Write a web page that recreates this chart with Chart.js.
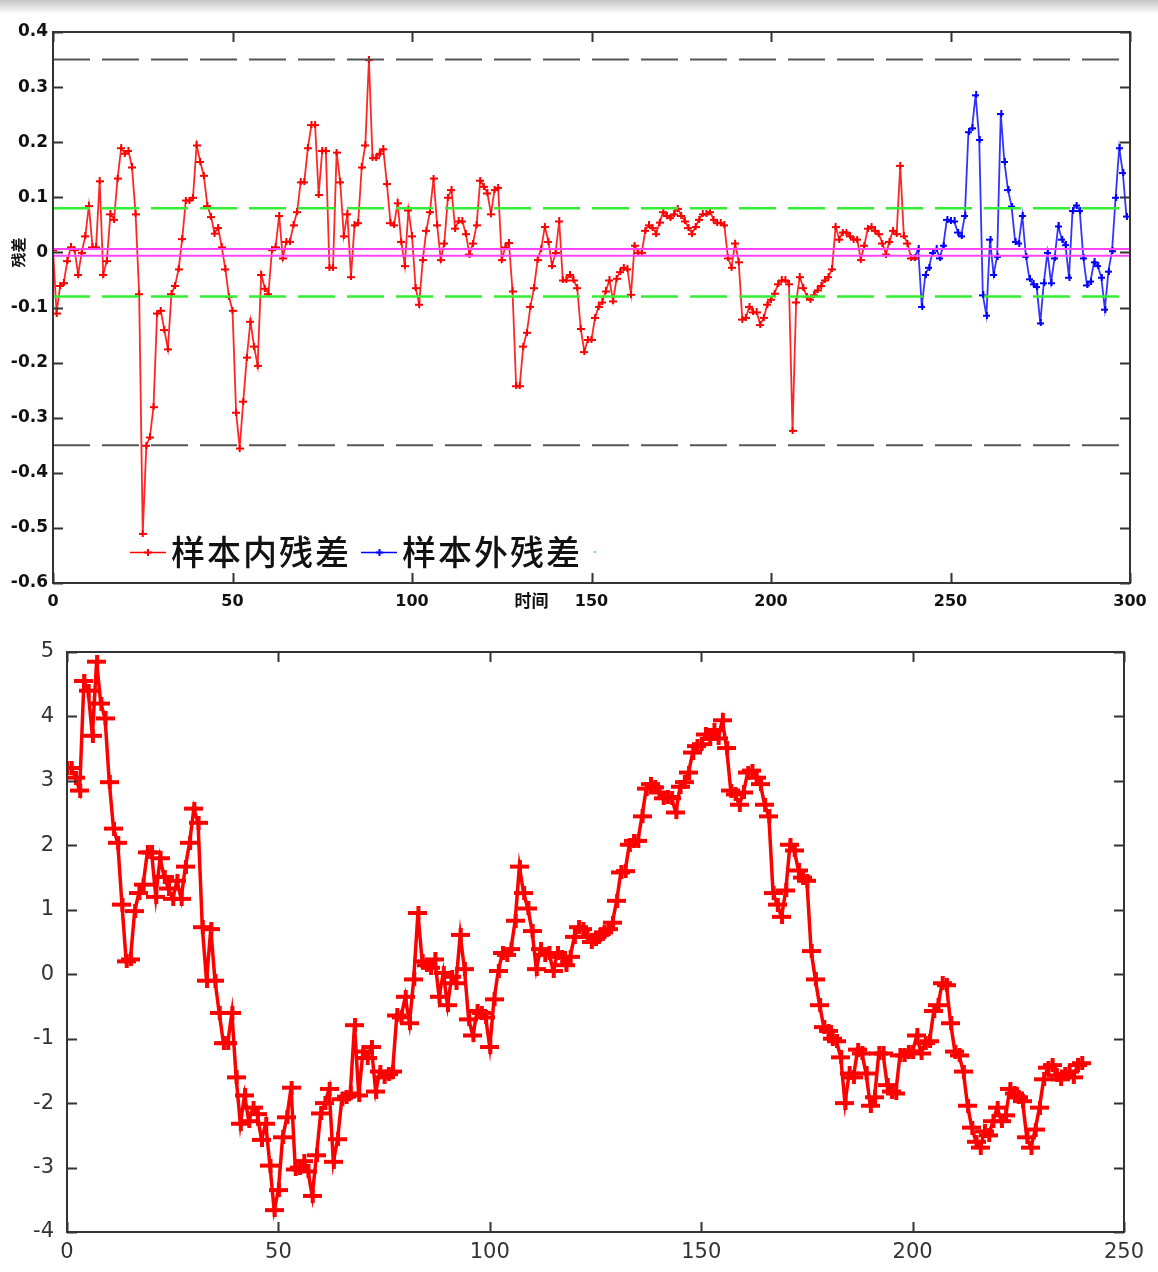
<!DOCTYPE html>
<html>
<head>
<meta charset="utf-8">
<script src="https://cdn.jsdelivr.net/npm/chart.js@4.4.0/dist/chart.umd.min.js"></script>
<style>
body { margin: 0; background: #fff; width: 1158px; height: 1272px; overflow: hidden; position: relative; }
#band { position: absolute; left: 0; top: 0; width: 1158px; height: 14px; background: linear-gradient(#c4c4c4, #fff); }
#residChart { position: absolute; left: 0; top: 0; }
#walkChart { position: absolute; left: 0; top: 630px; }
</style>
</head>
<body>
<div id="band"></div>
<canvas id="residChart" width="1158" height="620"></canvas>
<canvas id="walkChart" width="1158" height="642"></canvas>
<script>
// top panel: residuals, t = 0..240 in sample, 240..299 out of sample
const inSample = [
    0.005, -0.11, -0.06, -0.055, -0.015, 0.01, 0.005, -0.04, 0.0, 0.03,
    0.085, 0.01, 0.01, 0.13, -0.04, -0.015, 0.07, 0.06, 0.135, 0.19,
    0.18, 0.185, 0.155, 0.07, -0.075, -0.51, -0.35, -0.335, -0.28, -0.11,
    -0.105, -0.14, -0.175, -0.075, -0.06, -0.03, 0.025, 0.095, 0.095, 0.1,
    0.195, 0.165, 0.14, 0.085, 0.065, 0.035, 0.045, 0.01, -0.03, -0.08,
    -0.105, -0.29, -0.355, -0.27, -0.19, -0.125, -0.17, -0.205, -0.04, -0.065,
    -0.075, 0.005, 0.01, 0.067, -0.01, 0.02, 0.02, 0.05, 0.074, 0.128,
    0.128, 0.19, 0.232, 0.232, 0.105, 0.185, 0.185, -0.027, -0.027, 0.182,
    0.128, 0.03, 0.07, -0.044, 0.05, 0.054, 0.155, 0.195, 0.35, 0.172,
    0.172, 0.18, 0.188, 0.125, 0.054, 0.05, 0.09, 0.02, -0.024, 0.077,
    0.03, -0.064, -0.094, -0.013, 0.04, 0.074, 0.135, 0.05, -0.013, 0.017,
    0.1, 0.114, 0.044, 0.057, 0.057, 0.034, -0.003, 0.017, 0.05, 0.131,
    0.12, 0.108, 0.07, 0.114, 0.118, -0.013, 0.01, 0.018, -0.07, -0.242,
    -0.242, -0.17, -0.145, -0.098, -0.064, -0.013, 0.007, 0.047, 0.02, -0.024,
    0.0, 0.057, -0.05, -0.05, -0.04, -0.05, -0.064, -0.138, -0.18, -0.158,
    -0.158, -0.118, -0.098, -0.09, -0.07, -0.05, -0.088, -0.047, -0.035, -0.027,
    -0.03, -0.076, 0.013, 0.0, 0.0, 0.04, 0.05, 0.045, 0.034, 0.055,
    0.074, 0.067, 0.063, 0.07, 0.08, 0.067, 0.057, 0.045, 0.034, 0.047,
    0.06, 0.07, 0.07, 0.074, 0.06, 0.054, 0.054, 0.05, -0.01, -0.027,
    0.017, -0.017, -0.121, -0.118, -0.098, -0.108, -0.108, -0.131, -0.118, -0.094,
    -0.085, -0.074, -0.057, -0.05, -0.05, -0.057, -0.323, -0.09, -0.044, -0.064,
    -0.08, -0.085, -0.077, -0.068, -0.06, -0.05, -0.044, -0.03, 0.047, 0.024,
    0.037, 0.037, 0.03, 0.024, 0.024, -0.013, 0.013, 0.044, 0.047, 0.04,
    0.034, 0.017, -0.003, 0.02, 0.04, 0.034, 0.158, 0.03, 0.017, -0.01,
    -0.01
];
const outStart = 240;
const outSample = [
    -0.01, 0.007, -0.098, -0.04, -0.027, 0.0, 0.007, -0.01, 0.013, 0.06,
    0.057, 0.057, 0.037, 0.03, 0.067, 0.219, 0.226, 0.286, 0.205, -0.077,
    -0.114, 0.024, -0.04, -0.007, 0.252, 0.165, 0.114, 0.084, 0.02, 0.017,
    0.067, -0.007, -0.048, -0.057, -0.062, -0.128, -0.055, 0.0, -0.055, -0.01,
    0.048, 0.024, 0.014, -0.045, 0.076, 0.086, 0.076, -0.01, -0.059, -0.052,
    -0.017, -0.024, -0.045, -0.103, -0.034, 0.003, 0.1, 0.19, 0.145, 0.066
];
const controlLimits = [0.35, -0.35];
const warnLimits = [0.08, -0.08];
const centerBand = [0.006, -0.006];
const xTicksTop = [0, 50, 100, 150, 200, 250, 300];
const yTicksTop = [0.4, 0.3, 0.2, 0.1, 0, -0.1, -0.2, -0.3, -0.4, -0.5, -0.6];
const legendNames = ["样本内残差", "样本外残差"];

// bottom panel
const walk = [
    3.2, 3.2, 3.05, 2.85, 4.55, 4.4, 3.7, 4.85, 4.2, 3.97,
    2.98, 2.26, 2.04, 1.08, 0.2, 0.23, 0.98, 1.26, 1.39, 1.89,
    1.89, 1.2, 1.8, 1.51, 1.33, 1.17, 1.45, 1.17, 1.67, 2.04,
    2.57, 2.35, 0.73, -0.1, 0.7, -0.1, -0.6, -1.07, -1.07, -0.6,
    -1.6, -2.32, -1.88, -2.28, -2.07, -2.17, -2.57, -2.32, -2.97, -3.66,
    -3.35, -2.53, -2.22, -1.76, -3.03, -3.0, -2.9, -3.06, -3.44, -2.81,
    -2.16, -2.0, -1.78, -2.91, -2.56, -1.94, -1.9, -1.85, -0.79, -1.88,
    -1.2, -1.3, -1.13, -1.82, -1.51, -1.6, -1.55, -1.51, -0.64, -0.67,
    -0.35, -0.76, -0.08, 0.95, 0.2, 0.14, 0.1, 0.23, -0.35, 0.02,
    -0.48, -0.04, -0.14, 0.61, 0.08, -0.7, -0.95, -0.57, -0.6, -0.67,
    -1.13, -0.39, 0.05, 0.33, 0.3, 0.39, 0.83, 1.67, 1.26, 1.02,
    0.67, 0.08, 0.39, 0.3, 0.33, 0.05, 0.33, 0.27, 0.14, 0.27,
    0.58, 0.73, 0.7, 0.58, 0.5, 0.55, 0.61, 0.65, 0.7, 0.8,
    1.14, 1.58, 1.6, 2.01, 2.07, 2.07, 2.45, 2.88, 2.95, 2.9,
    2.82, 2.73, 2.75, 2.73, 2.51, 2.91, 2.98, 3.13, 3.44, 3.54,
    3.57, 3.72, 3.65, 3.79, 3.66, 3.94, 3.51, 2.85, 2.79, 2.63,
    2.82, 3.13, 3.16, 3.05, 2.95, 2.63, 2.45, 1.26, 1.08, 0.89,
    1.3, 2.01, 1.92, 1.61, 1.5, 1.45, 0.36, -0.08, -0.48, -0.82,
    -0.88, -1.0, -1.04, -1.29, -2.0, -1.54, -1.6, -1.17, -1.23, -1.54,
    -2.04, -1.91, -1.23, -1.23, -1.72, -1.82, -1.85, -1.26, -1.26, -1.2,
    -1.2, -0.95, -1.23, -1.07, -1.04, -0.57, -0.48, -0.14, -0.17, -0.76,
    -1.2, -1.26, -1.51, -2.04, -2.38, -2.6, -2.69, -2.44, -2.5, -2.28,
    -2.07, -2.28, -2.19, -1.78, -1.85, -1.91, -1.97, -2.53, -2.69, -2.41,
    -2.07, -1.63, -1.45, -1.41, -1.57, -1.63, -1.55, -1.51, -1.6, -1.41,
    -1.38
];
const xTicksBottom = [0, 50, 100, 150, 200, 250];
const yTicksBottom = [5, 4, 3, 2, 1, 0, -1, -2, -3, -4];

function makeCross(w, h, t, color) {
    const c = document.createElement("canvas");
    c.width = w;
    c.height = h;
    const g = c.getContext("2d");
    g.fillStyle = color;
    g.fillRect(0, Math.round((h - t) / 2), w, t);
    g.fillRect(Math.round((w - t) / 2), 0, t, h);
    return c;
}

const redCross = makeCross(8, 7, 2, "#ff0000");
const blueCross = makeCross(7, 7, 2, "#0000ff");
const bigCross = makeCross(19, 14, 4, "#ff0000");

// matlab style box with ticks pointing inwards
const boxTicks = {
    id: "boxTicks",
    afterDraw(chart, args, opts) {
        const { ctx, chartArea: a, scales } = chart;
        const len = opts.len || 10;
        ctx.save();
        ctx.strokeStyle = opts.color || "#333";
        ctx.lineWidth = opts.width || 2;
        ctx.beginPath();
        scales.x.ticks.forEach(t => {
            const px = Math.round(scales.x.getPixelForValue(t.value)) + 0.5;
            ctx.moveTo(px, a.bottom);
            ctx.lineTo(px, a.bottom - len);
            ctx.moveTo(px, a.top);
            ctx.lineTo(px, a.top + len);
        });
        scales.y.ticks.forEach(t => {
            const py = Math.round(scales.y.getPixelForValue(t.value)) + 0.5;
            ctx.moveTo(a.left, py);
            ctx.lineTo(a.left + len, py);
            ctx.moveTo(a.right, py);
            ctx.lineTo(a.right - len, py);
        });
        ctx.stroke();
        ctx.strokeRect(a.left, a.top, a.right - a.left, a.bottom - a.top);
        ctx.restore();
    }
};

// axis names and legend of the top panel
const residText = {
    id: "residText",
    afterDraw(chart) {
        const { ctx, scales } = chart;
        ctx.save();
        ctx.fillStyle = "#111";
        ctx.font = "bold 17px 'Noto Sans CJK SC'";
        ctx.textAlign = "center";
        ctx.textBaseline = "middle";
        ctx.fillText("时间", scales.x.getPixelForValue(150) - 60, 601);

        ctx.translate(18, scales.y.getPixelForValue(0));
        ctx.rotate(-Math.PI / 2);
        ctx.font = "bold 15px 'Noto Sans CJK SC'";
        ctx.fillText("残差", 0, 0);
        ctx.restore();

        const entries = [
            { x: 130, color: "#ff0000", marker: redCross, name: legendNames[0] },
            { x: 361, color: "#0000ff", marker: blueCross, name: legendNames[1] }
        ];
        ctx.save();
        ctx.font = "500 34px 'Noto Sans CJK SC'";
        ctx.textBaseline = "middle";
        ctx.textAlign = "left";
        ctx.letterSpacing = "2px";
        entries.forEach(e => {
            ctx.strokeStyle = e.color;
            ctx.lineWidth = 1.5;
            ctx.beginPath();
            ctx.moveTo(e.x, 552.5);
            ctx.lineTo(e.x + 36, 552.5);
            ctx.stroke();
            ctx.drawImage(e.marker, e.x + 18 - e.marker.width / 2, 552 - e.marker.height / 2);
            ctx.fillStyle = "#111";
            ctx.fillText(e.name, e.x + 41, 552);
        });
        ctx.fillStyle = "#66ee66";
        ctx.fillRect(594, 551, 2, 2);
        ctx.restore();
    }
};

function hLine(value, color, dash, width) {
    return {
        data: [{ x: xTicksTop[0], y: value }, { x: xTicksTop[xTicksTop.length - 1], y: value }],
        borderColor: color,
        borderDash: dash,
        borderWidth: width,
        pointRadius: 0
    };
}

function tickFont(bold, size) {
    return { family: "'DejaVu Sans'", weight: bold ? "bold" : "normal", size: size };
}

new Chart(document.getElementById("residChart"), {
    type: "line",
    data: {
        datasets: [
            hLine(controlLimits[0], "#555555", [37, 12], 2),
            hLine(controlLimits[1], "#555555", [37, 12], 2),
            hLine(warnLimits[0], "#33ee33", [37, 12], 2.5),
            hLine(warnLimits[1], "#33ee33", [37, 12], 2.5),
            hLine(centerBand[0], "#ff44ff", [], 2),
            hLine(centerBand[1], "#ff44ff", [], 2),
            {
                label: legendNames[0],
                data: inSample.map((v, i) => ({ x: i, y: v })),
                borderColor: "rgba(255,0,0,0.85)",
                borderWidth: 1.8,
                pointStyle: redCross,
                pointRadius: 3
            },
            {
                label: legendNames[1],
                data: outSample.map((v, i) => ({ x: outStart + i, y: v })),
                borderColor: "rgba(0,0,255,0.8)",
                borderWidth: 1.8,
                pointStyle: blueCross,
                pointRadius: 3
            }
        ]
    },
    options: {
        responsive: false,
        animation: false,
        layout: { padding: { left: 0, right: 28, top: 32, bottom: 0 } },
        plugins: {
            legend: { display: false },
            tooltip: { enabled: false },
            boxTicks: { len: 10, color: "#333", width: 2 }
        },
        elements: { line: { tension: 0 } },
        scales: {
            x: {
                type: "linear",
                min: 0,
                max: 300,
                afterBuildTicks: s => { s.ticks = xTicksTop.map(v => ({ value: v })); },
                afterFit: s => { s.height = 37; s.paddingLeft = 0; s.paddingRight = 0; },
                grid: { display: false, drawTicks: false },
                border: { display: false },
                ticks: { padding: 9, color: "#111", font: tickFont(true, 16), maxRotation: 0, autoSkip: false, callback: v => String(v) }
            },
            y: {
                min: -0.6,
                max: 0.4,
                afterBuildTicks: s => { s.ticks = yTicksTop.map(v => ({ value: v })); },
                afterFit: s => { s.width = 53; s.paddingTop = 0; s.paddingBottom = 0; },
                grid: { display: false, drawTicks: false },
                border: { display: false },
                ticks: { padding: 5, color: "#111", font: tickFont(true, 17), autoSkip: false, callback: v => String(v) }
            }
        }
    },
    plugins: [boxTicks, residText]
});

new Chart(document.getElementById("walkChart"), {
    type: "line",
    data: {
        datasets: [
            {
                data: walk.map((v, i) => ({ x: i, y: v })),
                borderColor: "#ff0000",
                borderWidth: 3.5,
                pointStyle: bigCross,
                pointRadius: 7
            }
        ]
    },
    options: {
        responsive: false,
        animation: false,
        layout: { padding: { left: 0, right: 34, top: 22, bottom: 0 } },
        plugins: {
            legend: { display: false },
            tooltip: { enabled: false },
            boxTicks: { len: 10, color: "#333", width: 2 }
        },
        elements: { line: { tension: 0 } },
        scales: {
            x: {
                type: "linear",
                min: 0,
                max: 250,
                afterBuildTicks: s => { s.ticks = xTicksBottom.map(v => ({ value: v })); },
                afterFit: s => { s.height = 40; s.paddingLeft = 0; s.paddingRight = 0; },
                grid: { display: false, drawTicks: false },
                border: { display: false },
                ticks: { padding: 8, color: "#333", font: tickFont(false, 21), maxRotation: 0, autoSkip: false, callback: v => String(v) }
            },
            y: {
                min: -4,
                max: 5,
                afterBuildTicks: s => { s.ticks = yTicksBottom.map(v => ({ value: v })); },
                afterFit: s => { s.width = 67; s.paddingTop = 0; s.paddingBottom = 0; },
                grid: { display: false, drawTicks: false },
                border: { display: false },
                ticks: { padding: 13, color: "#333", font: tickFont(false, 21), autoSkip: false, callback: v => String(v) }
            }
        }
    },
    plugins: [boxTicks]
});
</script>
</body>
</html>
